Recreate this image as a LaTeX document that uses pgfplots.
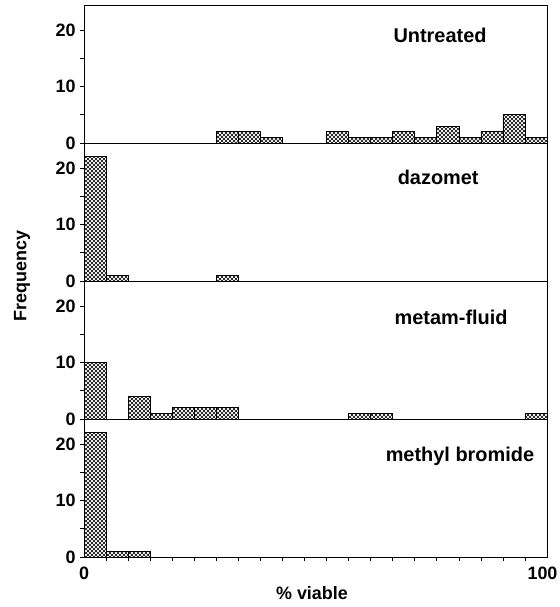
\documentclass[border=0pt]{standalone}
\usepackage{fontspec}
\setmainfont{Liberation Sans}
\usepackage{pgfplots}
\pgfplotsset{compat=1.18}
\usetikzlibrary{patterns}
\pgfdeclarepatternformonly{xhatch}{\pgfqpoint{-1bp}{-1bp}}{\pgfqpoint{5bp}{5bp}}{\pgfqpoint{4bp}{4bp}}{%
 \pgfsetlinewidth{0.45bp}%
 \pgfpathmoveto{\pgfqpoint{0bp}{0bp}}\pgfpathlineto{\pgfqpoint{4bp}{4bp}}%
 \pgfpathmoveto{\pgfqpoint{0bp}{4bp}}\pgfpathlineto{\pgfqpoint{4bp}{0bp}}%
 \pgfusepath{stroke}}
\pgfplotsset{
  panel/.style={scale only axis, width=463bp, height=138bp,
    xmin=0, xmax=21, ymin=0, ymax=24.4,
    ytick={0,10,20}, minor ytick={5,15}, xtick=\empty,
    tick align=inside, tick pos=left, major tick length=4bp, minor tick length=4bp,
    y tick style={xshift=-4bp},
    yticklabel style={xshift=-5bp},
    axis line style={line width=0.8bp},
    every tick/.style={line width=0.6bp, black},
    ybar, bar width=1, bar shift=0pt,
    ticklabel style={font=\fontsize{18}{20}\selectfont\bfseries},
    /pgf/number format/assume math mode=true,
    anchor=north west},
  hb/.style={draw=black, line width=0.6bp, pattern=xhatch}
}
\begin{document}
\begin{tikzpicture}
\useasboundingbox (-84bp,5bp) rectangle (476bp,-602bp);
\begin{axis}[panel, at={(0bp,0bp)}]
\addplot[hb] coordinates {(6.5,2)(7.5,2)(8.5,1)(11.5,2)(12.5,1)(13.5,1)(14.5,2)(15.5,1)(16.5,3)(17.5,1)(18.5,2)(19.5,5)(20.5,1)};
\node[font=\fontsize{20}{22}\selectfont\bfseries] at (rel axis cs:0.769,0.78) {Untreated};
\end{axis}
\begin{axis}[panel, at={(0bp,-138bp)}]
\addplot[hb] coordinates {(0.5,22)(1.5,1)(6.5,1)};
\node[font=\fontsize{20}{22}\selectfont\bfseries] at (rel axis cs:0.765,0.75) {dazomet};
\end{axis}
\begin{axis}[panel, at={(0bp,-276bp)}]
\addplot[hb] coordinates {(0.5,10)(2.5,4)(3.5,1)(4.5,2)(5.5,2)(6.5,2)(12.5,1)(13.5,1)(20.5,1)};
\node[font=\fontsize{20}{22}\selectfont\bfseries] at (rel axis cs:0.793,0.735) {metam-fluid};
\end{axis}
\begin{axis}[panel, at={(0bp,-414bp)},
  xtick={0,21}, xticklabels={0,{\kern-9bp 100}}, minor xtick={1,...,20},
  major x tick style={draw=none}, xticklabel style={yshift=-2bp}]
\addplot[hb] coordinates {(0.5,22)(1.5,1)(2.5,1)};
\node[font=\fontsize{20}{22}\selectfont\bfseries] at (rel axis cs:0.812,0.73) {methyl bromide};
\end{axis}
\node[rotate=90, font=\fontsize{18}{20}\selectfont\bfseries] at (-62bp,-271bp) {Frequency};
\node[font=\fontsize{18}{20}\selectfont\bfseries] at (228bp,-588bp) {\% viable};
\end{tikzpicture}
\end{document}
